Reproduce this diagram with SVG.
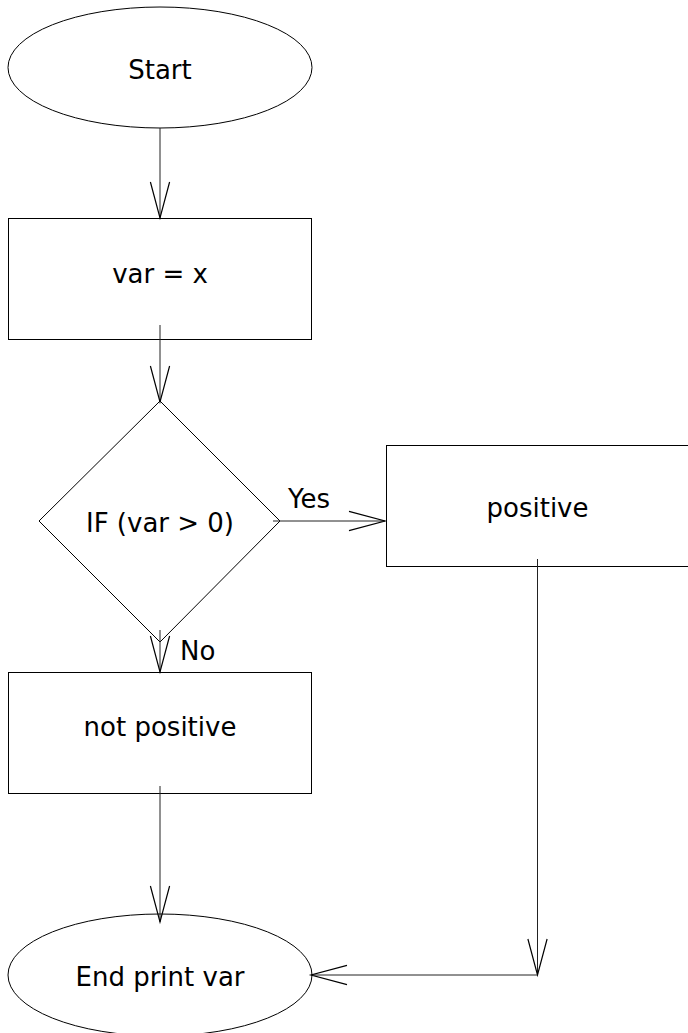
<svg xmlns="http://www.w3.org/2000/svg" width="688" height="1033" viewBox="0 0 688 1033">
<defs>
<style>
.shape{fill:#fff;stroke:#000;stroke-width:1}
.lbl{font-family:"DejaVu Sans",sans-serif;font-size:26px;fill:#000;text-anchor:middle}
.elbl{font-family:"DejaVu Sans",sans-serif;font-size:26px;fill:#000}
.conn{fill:none;stroke:#222;stroke-width:1}
</style>
<marker id="arr" markerUnits="userSpaceOnUse" markerWidth="80" markerHeight="80" refX="0" refY="0" orient="auto" viewBox="-40 -40 80 80" overflow="visible">
<path d="M -36 -9.6 L 0 0 L -36 9.6" fill="none" stroke="#000" stroke-width="1.2"/>
</marker>
</defs>
<rect width="688" height="1033" fill="#fff"/>
<g id="start">
<ellipse class="shape" cx="160" cy="67.5" rx="152" ry="60.5"/>
<text class="lbl" x="160" y="79">Start</text>
</g>
<g id="assign">
<rect class="shape" x="8.5" y="218.5" width="303" height="121"/>
<text class="lbl" x="160" y="283">var = x</text>
</g>
<g id="decision">
<polygon class="shape" points="160,401 280,521 160,642 39,521"/>
<text class="lbl" x="160" y="532">IF (var &gt; 0)</text>
</g>
<g id="positive">
<rect class="shape" x="386.5" y="445.5" width="304" height="121"/>
<text class="lbl" x="537.5" y="517">positive</text>
</g>
<g id="notpositive">
<rect class="shape" x="8.5" y="672.5" width="303" height="121"/>
<text class="lbl" x="160" y="736">not positive</text>
</g>
<g id="end">
<ellipse class="shape" cx="160" cy="975" rx="152" ry="61"/>
<text class="lbl" x="160" y="986">End print var</text>
</g>
<g id="connectors">
<path class="conn" d="M160 128 L160 218" marker-end="url(#arr)"/>
<path class="conn" d="M160 325 L160 402" marker-end="url(#arr)"/>
<path class="conn" d="M273 521 L385 521" marker-end="url(#arr)"/>
<path class="conn" d="M160 630 L160 672" marker-end="url(#arr)"/>
<path class="conn" d="M160 786 L160 922" marker-end="url(#arr)"/>
<path class="conn" d="M537.5 559 L537.5 975" marker-end="url(#arr)"/>
<path class="conn" d="M537.5 975 L311 975" marker-end="url(#arr)"/>
<text class="elbl" x="288" y="508">Yes</text>
<text class="elbl" x="180" y="660">No</text>
</g>
</svg>
